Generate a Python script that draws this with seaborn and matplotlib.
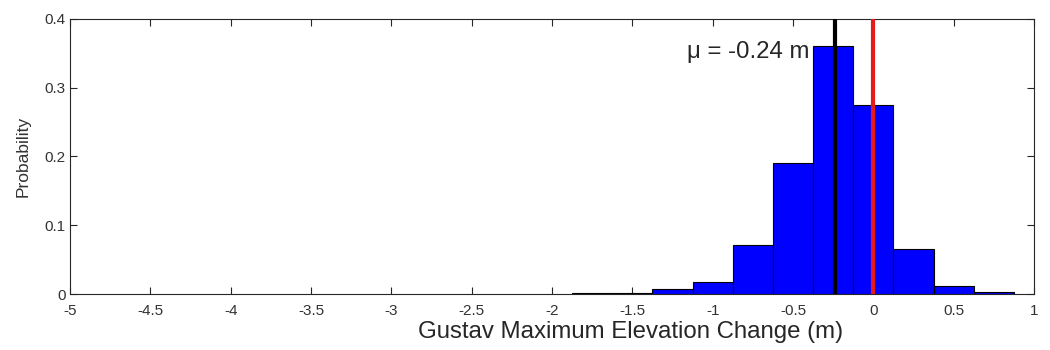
import matplotlib
matplotlib.use("Agg")
import matplotlib.pyplot as plt
import seaborn as sns
import numpy as np
import pandas as pd

bin_centers = [-1.75, -1.5, -1.25, -1.0, -0.75, -0.5, -0.25, 0.0, 0.25, 0.5, 0.75]
probabilities = [0.001, 0.001, 0.007, 0.017, 0.071, 0.19, 0.36, 0.275, 0.066, 0.012, 0.003]
bin_width = 0.25
mean_value = -0.24
reference_value = 0.0
x_ticks = [-5, -4.5, -4, -3.5, -3, -2.5, -2, -1.5, -1, -0.5, 0, 0.5, 1]
x_tick_labels = ["-5", "-4.5", "-4", "-3.5", "-3", "-2.5", "-2", "-1.5", "-1", "-0.5", "0", "0.5", "1"]
y_ticks = [0, 0.1, 0.2, 0.3, 0.4]
y_tick_labels = ["0", "0.1", "0.2", "0.3", "0.4"]

sns.set_style("ticks")
plt.rcParams['font.family'] = ['Liberation Sans', 'DejaVu Sans']

fig = plt.figure(figsize=(10.5, 3.5), dpi=100)
ax = fig.add_axes([0.0667, 0.16, 0.918, 0.786])

df = pd.DataFrame({"center": bin_centers, "prob": probabilities})
edges = [float(v) for v in np.arange(bin_centers[0] - bin_width / 2, bin_centers[-1] + bin_width, bin_width)]
sns.histplot(data=df, x="center", weights="prob", bins=edges, color=(0, 0, 1),
             edgecolor='black', linewidth=0.8, alpha=1, ax=ax, zorder=2)

ax.axvline(mean_value, color='black', linewidth=3, zorder=3)
ax.axvline(reference_value, color=(0.9, 0.1, 0.1), linewidth=3, zorder=3)
ax.text(-0.40, 0.352, "μ = -0.24 m", ha='right', va='center', fontsize=17.3, zorder=4)

ax.set_xlim(-5, 1.0)
ax.set_ylim(0, 0.4)
ax.set_xticks(x_ticks)
ax.set_xticklabels(x_tick_labels)
ax.set_yticks(y_ticks)
ax.set_yticklabels(y_tick_labels)
ax.tick_params(direction='in', top=True, right=True, labelsize=11, length=5,
               labelcolor='#333333')
ax.tick_params(axis='x', pad=7)
ax.tick_params(axis='y', pad=3)
for s in ax.spines.values():
    s.set_visible(True)
    s.set_linewidth(0.8)
ax.set_xlabel("Gustav Maximum Elevation Change (m)", fontsize=17.3)
ax.xaxis.set_label_coords(0.5815, -0.098, transform=ax.transAxes)
ax.xaxis.label.set_va('top')
ax.set_ylabel("Probability", fontsize=12.5, color='#333333', labelpad=10)

fig.savefig("out.png", dpi=100)
